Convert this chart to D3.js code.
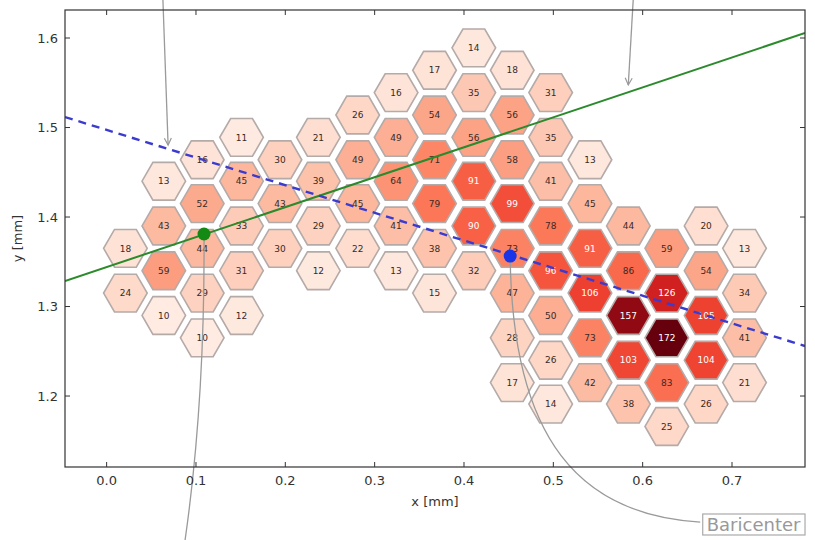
<!DOCTYPE html>
<html><head><meta charset="utf-8">
<script src="https://cdn.jsdelivr.net/npm/d3@7"></script>
<style>body{margin:0;background:#fff}svg{display:block}</style>
</head><body>
<svg id="chart" width="815" height="540"></svg>
<script>
// ---- data (mm) ----
const hexX = [
  0.021,0.021,
  0.064,0.064,0.064,0.064,
  0.107,0.107,0.107,0.107,0.107,
  0.151,0.151,0.151,0.151,0.151,
  0.194,0.194,0.194,
  0.237,0.237,0.237,0.237,
  0.281,0.281,0.281,0.281,
  0.324,0.324,0.324,0.324,0.324,
  0.367,0.367,0.367,0.367,0.367,0.367,
  0.411,0.411,0.411,0.411,0.411,0.411,
  0.454,0.454,0.454,0.454,0.454,0.454,0.454,0.454,
  0.497,0.497,0.497,0.497,0.497,0.497,0.497,0.497,
  0.541,0.541,0.541,0.541,0.541,0.541,
  0.584,0.584,0.584,0.584,0.584,
  0.627,0.627,0.627,0.627,0.627,
  0.671,0.671,0.671,0.671,0.671,
  0.714,0.714,0.714,0.714
];
const hexY = [
  1.365,1.315,
  1.440,1.390,1.340,1.290,
  1.464,1.415,1.365,1.315,1.265,
  1.489,1.440,1.390,1.340,1.290,
  1.464,1.415,1.365,
  1.489,1.440,1.390,1.340,
  1.514,1.464,1.415,1.365,
  1.539,1.489,1.440,1.390,1.340,
  1.564,1.514,1.464,1.415,1.365,1.315,
  1.589,1.539,1.489,1.440,1.390,1.340,
  1.564,1.514,1.464,1.415,1.365,1.315,1.265,1.215,
  1.539,1.489,1.440,1.390,1.340,1.290,1.240,1.191,
  1.464,1.415,1.365,1.315,1.265,1.215,
  1.390,1.340,1.290,1.240,1.191,
  1.365,1.315,1.265,1.215,1.166,
  1.390,1.340,1.290,1.240,1.191,
  1.365,1.315,1.265,1.215
];
const hexCount = [
  18,24,
  13,43,59,10,
  16,52,44,29,10,
  11,45,33,31,12,
  30,43,30,
  21,39,29,12,
  26,49,45,22,
  16,49,64,41,13,
  17,54,71,79,38,15,
  14,35,56,91,90,32,
  18,56,58,99,73,47,28,17,
  31,35,41,78,96,50,26,14,
  13,45,91,106,73,42,
  44,86,157,103,38,
  59,126,172,83,25,
  20,54,105,104,26,
  13,34,41,21
];
const xTicks = [0.0,0.1,0.2,0.3,0.4,0.5,0.6,0.7];
const yTicks = [1.2,1.3,1.4,1.5,1.6];
const xDomain = [-0.0466, 0.7817];
const yDomain = [1.1207, 1.6313];
const hexRadius = 0.0244;           // mm
const greenLineX = [-0.0466, 0.7817];
const greenLineY = [1.3285, 1.6056];
const blueLineX = [-0.0466, 0.7817];
const blueLineY = [1.5117, 1.2559];
const greenPoint = [0.109, 1.381];
const bluePoint = [0.4517, 1.3564];
// annotation arrows (mm, may lie outside the axes)
const arrowTop1 = [[0.063, 1.6425],[0.0688, 1.4804]];
const arrowTop2 = [[0.5894, 1.6425],[0.5839, 1.5475]];
const arrowGreen = [[0.0878, 1.0391],[0.1102, 1.1955],[0.109, 1.381]];
const arrowBlue = [[0.6644, 1.0592],[0.5301, 1.0670],[0.4538, 1.1508],[0.4517, 1.3564]];
const baricenterAnchor = [0.6717, 1.0492];

// ---- layout ----
const svg = d3.select("#chart");
const L = 65, R = 805, T = 10, B = 467;
const x = d3.scaleLinear().domain(xDomain).range([L, R]);
const y = d3.scaleLinear().domain(yDomain).range([B, T]);
const color = d3.scaleSequential(d3.interpolateReds).domain([0, 172]);

const defs = svg.append("defs");
defs.append("clipPath").attr("id","clip")
  .append("rect").attr("x",L).attr("y",T).attr("width",R-L).attr("height",B-T);

const plot = svg.append("g").attr("clip-path","url(#clip)");

const rpx = x(hexRadius) - x(0);
const hexPath = d3.range(6).map(i => {
  const a = Math.PI/3*i;
  return [rpx*Math.cos(a), rpx*Math.sin(a)];
});
const hexD = "M" + hexPath.map(p => p.join(",")).join("L") + "Z";

const cells = hexCount.map((c,i) => ({x: hexX[i], y: hexY[i], c}));
const g = plot.selectAll("g.hex").data(cells).enter().append("g")
  .attr("transform", d => `translate(${x(d.x)},${y(d.y)})`);
g.append("path").attr("d", hexD)
  .attr("fill", d => color(d.c))
  .attr("stroke", "#b4aaa8").attr("stroke-width", 1.6);
g.append("text").text(d => d.c)
  .attr("text-anchor","middle").attr("dy","0.35em")
  .attr("font-family","DejaVu Sans, sans-serif").attr("font-size", 9)
  .attr("fill", d => d.c >= 88 ? "#fff" : "#3a2a26");

// lines
const line = d3.line().x(d => x(d[0])).y(d => y(d[1]));
plot.append("path").datum(greenLineX.map((v,i)=>[v, greenLineY[i]]))
  .attr("d", line).attr("fill","none").attr("stroke","#2b8a2b").attr("stroke-width",2);
plot.append("path").datum(blueLineX.map((v,i)=>[v, blueLineY[i]]))
  .attr("d", line).attr("fill","none").attr("stroke","#3b3bcf").attr("stroke-width",2.4)
  .attr("stroke-dasharray","8,6");

// arrow marker
defs.append("marker").attr("id","arr")
  .attr("viewBox","-8 -5 10 10").attr("refX",0).attr("refY",0)
  .attr("markerWidth",10).attr("markerHeight",10).attr("orient","auto")
  .attr("markerUnits","userSpaceOnUse")
  .append("path").attr("d","M-7,-3.5L0,0L-7,3.5").attr("fill","none")
  .attr("stroke","#999").attr("stroke-width",1.2);

const ann = svg.append("g").attr("fill","none").attr("stroke","#9a9a9a").attr("stroke-width",1.3);
[arrowTop1, arrowTop2].forEach(a => {
  ann.append("path").attr("d", line(a)).attr("marker-end","url(#arr)");
});
const P = p => [x(p[0]), y(p[1])];
{
  const [p0,c,p2] = arrowGreen.map(P);
  ann.append("path").attr("d", `M${p0}Q${c} ${p2}`);
}
{
  const [p0,c1,c2,p3] = arrowBlue.map(P);
  ann.append("path").attr("d", `M${p0}C${c1} ${c2} ${p3}`);
}

// points
svg.append("circle").attr("cx", x(greenPoint[0])).attr("cy", y(greenPoint[1]))
  .attr("r", 6.5).attr("fill","#138a13");
svg.append("circle").attr("cx", x(bluePoint[0])).attr("cy", y(bluePoint[1]))
  .attr("r", 6.5).attr("fill","#1a35e8");

// frame & ticks
svg.append("rect").attr("x",L).attr("y",T).attr("width",R-L).attr("height",B-T)
  .attr("fill","none").attr("stroke","#333").attr("stroke-width",1.2);
const tk = svg.append("g").attr("stroke","#333").attr("stroke-width",1);
xTicks.forEach(v => {
  tk.append("line").attr("x1",x(v)).attr("x2",x(v)).attr("y1",B).attr("y2",B-5);
  tk.append("line").attr("x1",x(v)).attr("x2",x(v)).attr("y1",T).attr("y2",T+5);
});
yTicks.forEach(v => {
  tk.append("line").attr("x1",L).attr("x2",L+5).attr("y1",y(v)).attr("y2",y(v));
  tk.append("line").attr("x1",R).attr("x2",R-5).attr("y1",y(v)).attr("y2",y(v));
});
const lab = svg.append("g").attr("font-family","DejaVu Sans, sans-serif")
  .attr("font-size",13).attr("fill","#333");
xTicks.forEach(v => {
  lab.append("text").attr("x",x(v)).attr("y",B+18).attr("text-anchor","middle").text(d3.format(".1f")(v));
});
yTicks.forEach(v => {
  lab.append("text").attr("x",L-7).attr("y",y(v)).attr("dy","0.35em").attr("text-anchor","end").text(d3.format(".1f")(v));
});
lab.append("text").attr("x",(L+R)/2).attr("y",B+39).attr("text-anchor","middle").text("x [mm]");
lab.append("text").attr("transform",`translate(22,${(T+B)/2}) rotate(-90)`)
  .attr("text-anchor","middle").text("y [mm]");

// Baricenter label
const bg = svg.append("g");
const bbox = bg.append("rect");
const bt = bg.append("text").attr("x", x(baricenterAnchor[0])).attr("y", y(baricenterAnchor[1]))
  .attr("font-family","DejaVu Sans, sans-serif").attr("font-size",18).attr("fill","#999")
  .text("Baricenter");
const bb = bt.node().getBBox();
bbox.attr("x", bb.x-4).attr("y", bb.y).attr("width", bb.width+8).attr("height", bb.height)
  .attr("fill","#fff").attr("stroke","#aaa").attr("stroke-width",1.2);
</script>
</body></html>
